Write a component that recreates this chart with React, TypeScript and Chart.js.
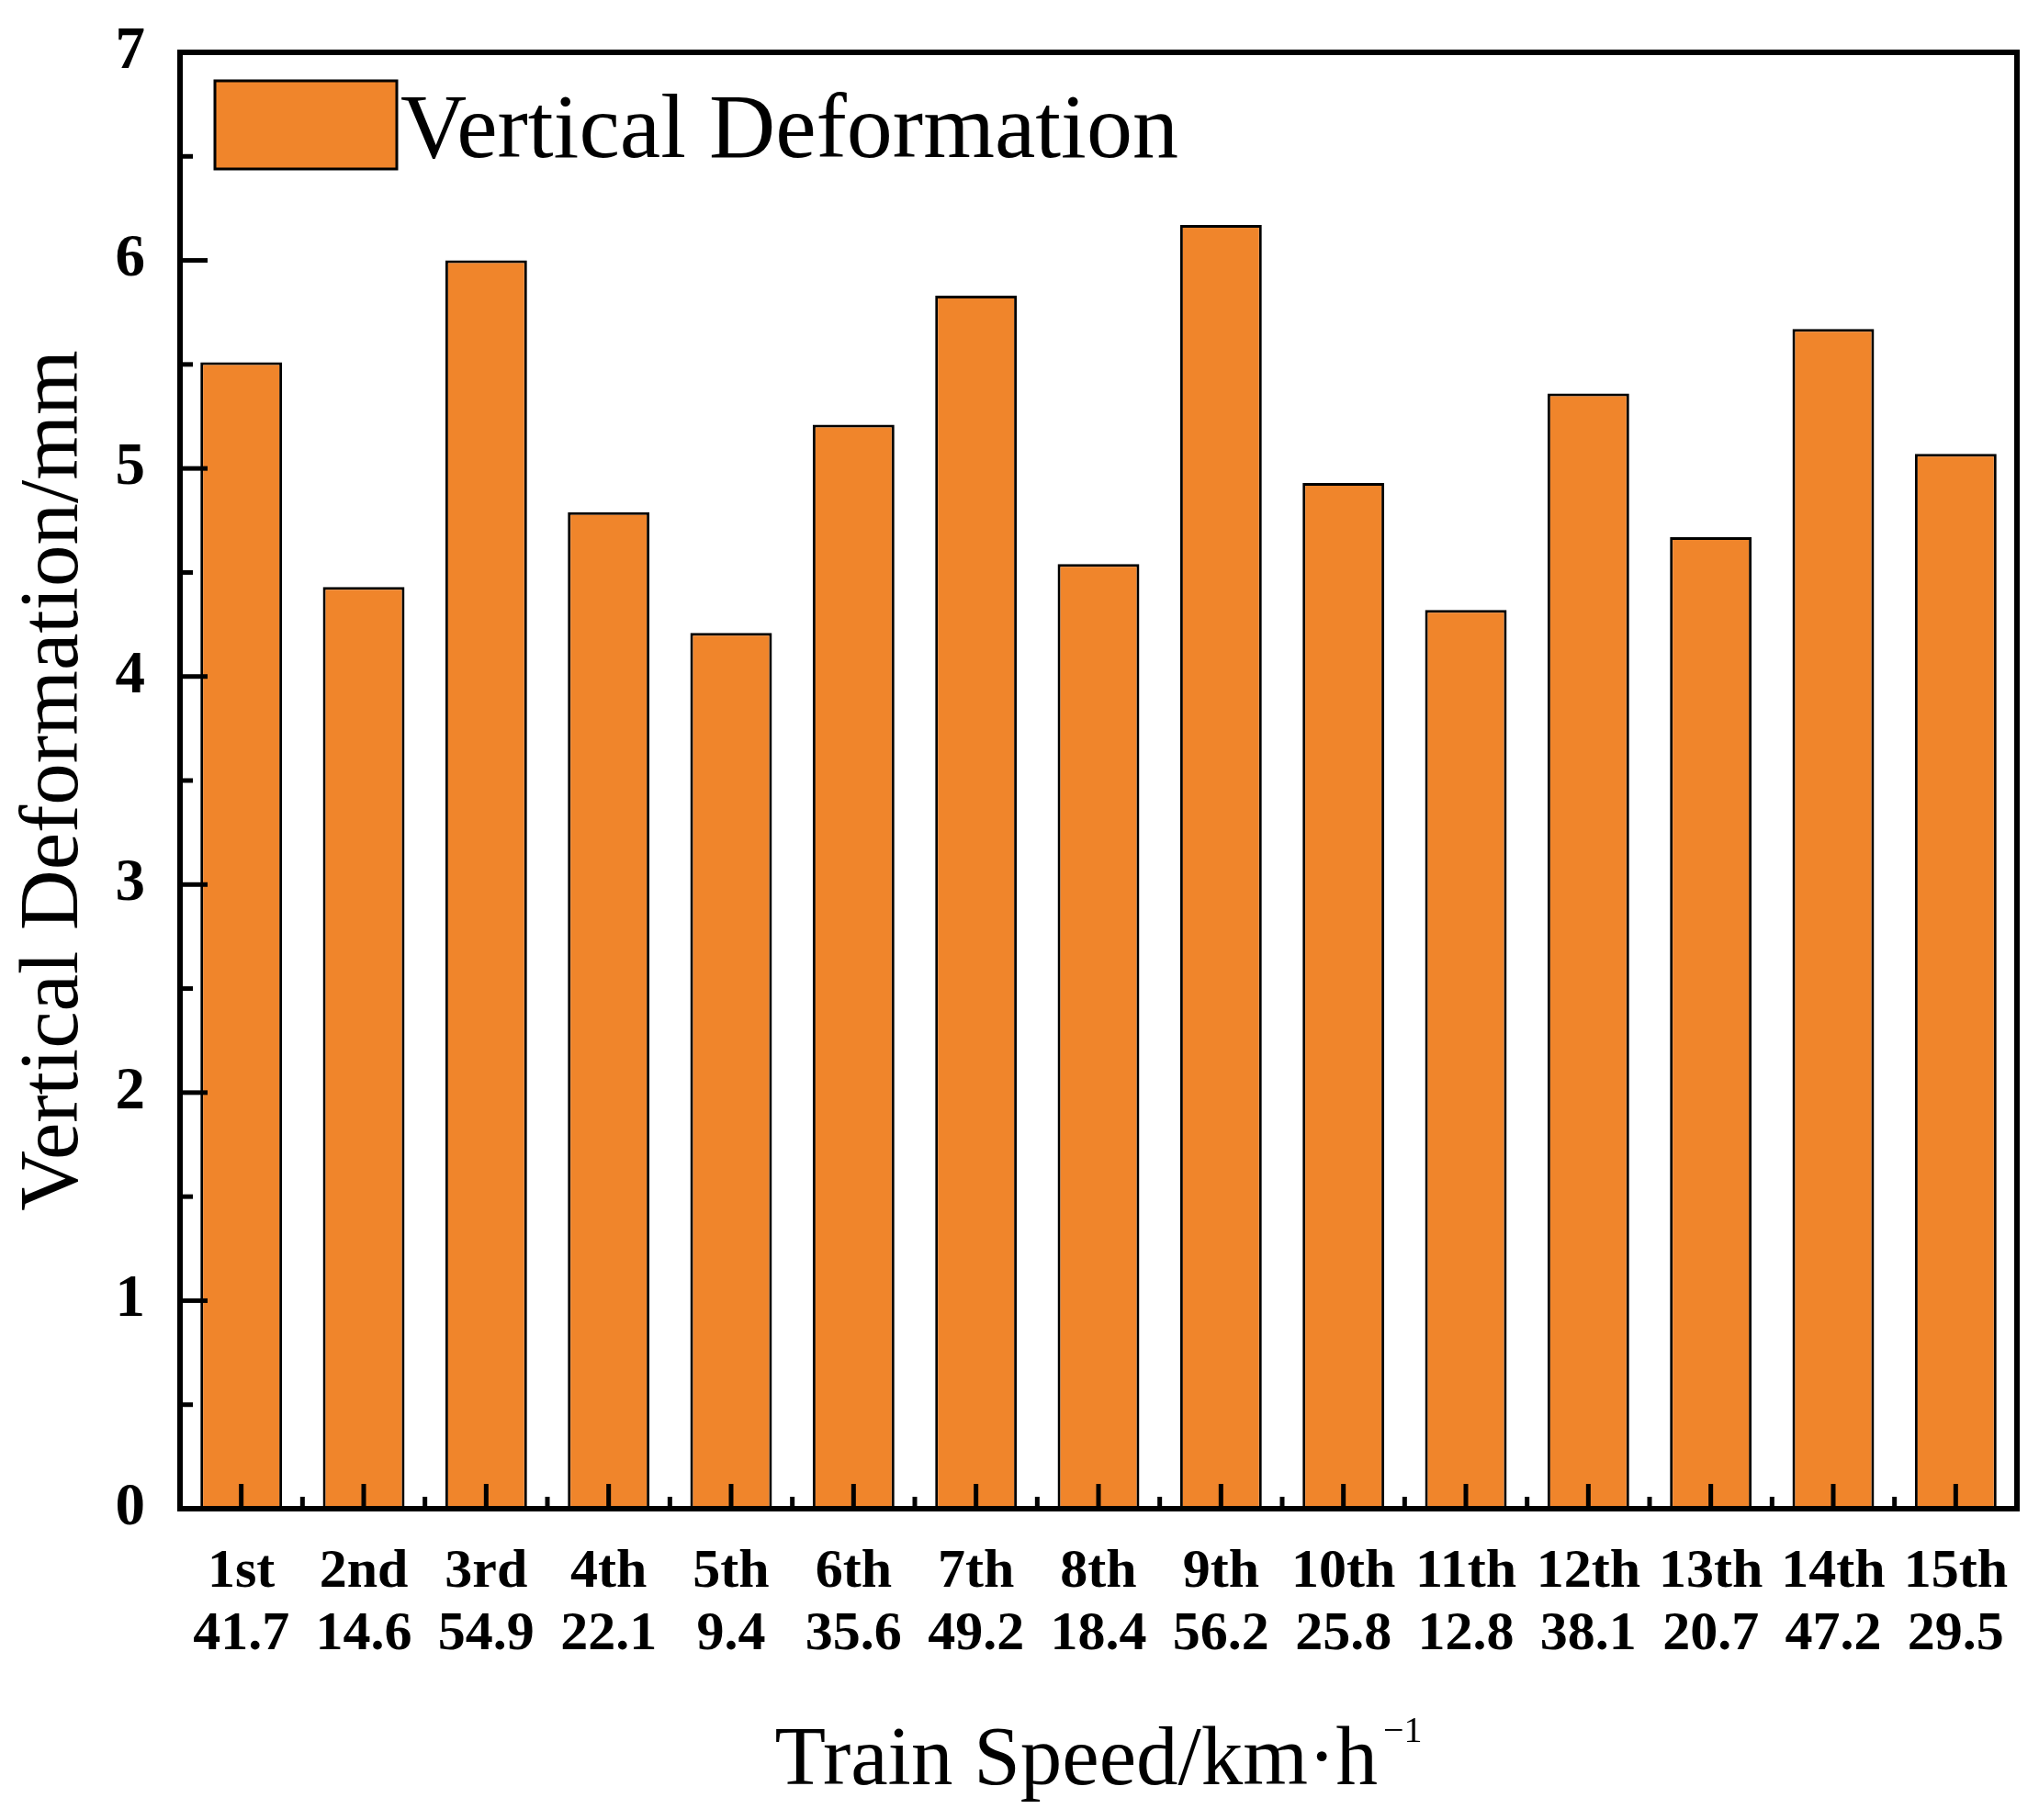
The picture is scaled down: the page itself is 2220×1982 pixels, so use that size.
import { useEffect, useRef } from "react"
import { Chart, registerables } from "chart.js"

Chart.register(...registerables)

// data
const passes = ["1st", "2nd", "3rd", "4th", "5th", "6th", "7th", "8th", "9th", "10th", "11th", "12th", "13th", "14th", "15th"]
const speeds = ["41.7", "14.6", "54.9", "22.1", "9.4", "35.6", "49.2", "18.4", "56.2", "25.8", "12.8", "38.1", "20.7", "47.2", "29.5"]
const deformation = [5.51, 4.43, 6.0, 4.79, 4.21, 5.21, 5.83, 4.54, 6.17, 4.93, 4.32, 5.36, 4.67, 5.67, 5.07]
const yTicks = [0, 1, 2, 3, 4, 5, 6, 7]

const SERIF = "'Liberation Serif', 'Times New Roman', serif"
const ORANGE = "#F0852B"

// frame, inward ticks, legend and x title
const decorations = {
  id: "decorations",
  afterDatasetsDraw(chart: any) {
    const { ctx, chartArea: a, scales } = chart
    const x = scales.x
    const y = scales.y
    ctx.save()
    ctx.strokeStyle = "#000"
    ctx.lineCap = "butt"

    // y ticks (major + half-step minor)
    ctx.lineWidth = 5
    for (let i = 0; i < yTicks.length; i++) {
      const py = y.getPixelForValue(yTicks[i])
      ctx.beginPath()
      ctx.moveTo(a.left, py)
      ctx.lineTo(a.left + 30, py)
      ctx.stroke()
      if (i < yTicks.length - 1) {
        const pm = y.getPixelForValue((yTicks[i] + yTicks[i + 1]) / 2)
        ctx.beginPath()
        ctx.moveTo(a.left, pm)
        ctx.lineTo(a.left + 14, pm)
        ctx.stroke()
      }
    }

    // x ticks at bars and between them
    for (let i = 0; i < passes.length; i++) {
      const px = x.getPixelForValue(i)
      ctx.beginPath()
      ctx.moveTo(px, a.bottom)
      ctx.lineTo(px, a.bottom - 27)
      ctx.stroke()
      if (i < passes.length - 1) {
        const pm = (px + x.getPixelForValue(i + 1)) / 2
        ctx.beginPath()
        ctx.moveTo(pm, a.bottom)
        ctx.lineTo(pm, a.bottom - 13)
        ctx.stroke()
      }
    }

    // frame
    ctx.lineWidth = 6
    ctx.strokeRect(a.left, a.top, a.right - a.left, a.bottom - a.top)

    // legend
    const ds = chart.data.datasets[0]
    const bx = a.left + 38
    const by = a.top + 31
    ctx.fillStyle = ds.backgroundColor
    ctx.fillRect(bx, by, 198, 96)
    ctx.lineWidth = 3
    ctx.strokeRect(bx, by, 198, 96)
    ctx.fillStyle = "#000"
    ctx.font = `100px ${SERIF}`
    ctx.textBaseline = "alphabetic"
    ctx.textAlign = "left"
    ctx.fillText(ds.label, bx + 202, a.top + 114)

    // x axis title with superscript
    const main = "Train Speed/km·h"
    const sup = "−1"
    ctx.font = `91px ${SERIF}`
    const wMain = ctx.measureText(main).width
    ctx.font = `40px ${SERIF}`
    const wSup = ctx.measureText(sup).width
    const cx = (a.left + a.right) / 2
    const start = cx - (wMain + 6 + wSup) / 2
    ctx.font = `91px ${SERIF}`
    ctx.fillText(main, start, 1943)
    ctx.font = `40px ${SERIF}`
    ctx.fillText(sup, start + wMain + 6, 1897)
    ctx.restore()
  },
}

function DeformationChart() {
  const chartRef = useRef<HTMLCanvasElement>(null)
  const chartInstance = useRef<Chart | null>(null)

  useEffect(() => {
    if (!chartRef.current) return
    if (chartInstance.current) chartInstance.current.destroy()

    const ctx = chartRef.current.getContext("2d")
    if (!ctx) return

    const labels = passes.map((p, i) => [p, speeds[i]])

    chartInstance.current = new Chart(ctx, {
      type: "bar",
      data: {
        labels,
        datasets: [
          {
            label: "Vertical Deformation",
            data: deformation,
            backgroundColor: ORANGE,
            borderColor: "#000",
            borderWidth: 3,
            barPercentage: 0.667,
            categoryPercentage: 1,
          },
        ],
      },
      options: {
        responsive: false,
        animation: false,
        devicePixelRatio: 1,
        layout: { padding: { left: 0, right: 24, top: 57, bottom: 0 } },
        plugins: {
          legend: { display: false },
          tooltip: { enabled: false },
        },
        scales: {
          x: {
            offset: true,
            grid: { display: false, drawTicks: false },
            border: { display: false },
            ticks: {
              color: "#000",
              font: { family: SERIF, size: 60, weight: "bold", lineHeight: 1.13 },
              padding: 36,
              maxRotation: 0,
              autoSkip: false,
            },
            afterFit: (scale: any) => {
              scale.height = 339
              scale.paddingLeft = 0
              scale.paddingRight = 0
            },
          },
          y: {
            min: 0,
            max: 7,
            grid: { display: false, drawTicks: false },
            border: { display: false },
            ticks: {
              stepSize: 1,
              color: "#000",
              font: { family: SERIF, size: 65, weight: "bold" },
              padding: 38,
            },
            title: {
              display: true,
              text: "Vertical Deformation/mm",
              color: "#000",
              font: { family: SERIF, size: 91, lineHeight: 1 },
              padding: { top: 15, bottom: 0 },
            },
            afterFit: (scale: any) => {
              scale.width = 196
              scale.paddingTop = 0
              scale.paddingBottom = 0
            },
          },
        },
      },
      plugins: [decorations],
    })

    return () => {
      if (chartInstance.current) {
        chartInstance.current.destroy()
        chartInstance.current = null
      }
    }
  }, [])

  return (
    <div style={{ position: "absolute", left: 0, top: 0, width: 2220, height: 1982, background: "#fff" }}>
      <canvas ref={chartRef} width={2220} height={1982}></canvas>
    </div>
  )
}

export default function App() {
  return <DeformationChart />
}
